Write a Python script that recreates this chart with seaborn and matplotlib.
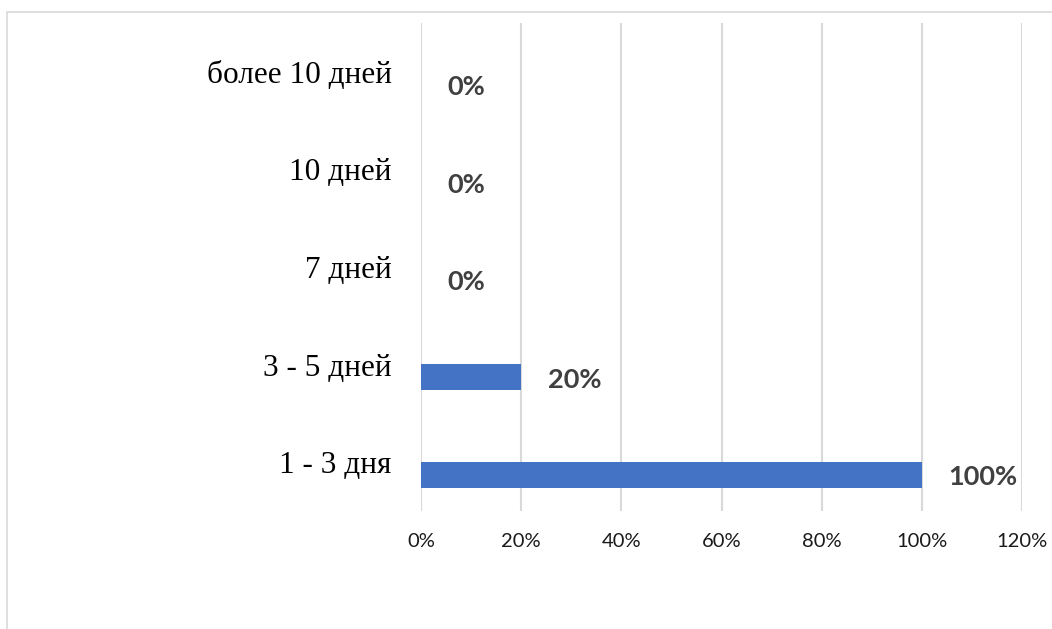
import pandas as pd
import matplotlib
matplotlib.use("Agg")
import matplotlib.pyplot as plt
import seaborn as sns
from matplotlib.patches import Rectangle
from matplotlib.transforms import ScaledTranslation

# data
categories = ["более 10 дней", "10 дней", "7 дней", "3 - 5 дней", "1 - 3 дня"]
shares = [0, 0, 0, 20, 100]
x_ticks = [0, 20, 40, 60, 80, 100, 120]
x_tick_labels = ["0%", "20%", "40%", "60%", "80%", "100%", "120%"]

df = pd.DataFrame({"category": categories, "share": shares})

sns.set_style("white")

fig = plt.figure(figsize=(10.52, 6.29), dpi=100)
ax = fig.add_axes([0.4002, 0.1876, 0.5713, 0.7758])

sns.barplot(data=df, x="share", y="category", order=categories,
            color="#4472C4", saturation=1, width=0.27, linewidth=0, ax=ax)

# in the original the bars sit a bit below their category labels
shift = ScaledTranslation(0, -9 / 72, fig.dpi_scale_trans)
for p in ax.patches:
    p.set_transform(ax.transData + shift)

ax.set_xlim(0, 120)
ax.set_ylim(4.5, -0.5)
ax.set_xticks(x_ticks)
ax.set_xticklabels(x_tick_labels, family="Lato", fontsize=14.5, color="#1a1a1a")
ax.tick_params(axis="x", length=0, pad=16)
ax.tick_params(axis="y", length=0, pad=21)
for lbl in ax.get_yticklabels():
    lbl.set_family("Liberation Serif")
    lbl.set_fontsize(22.5)
    lbl.set_color("black")

ax.xaxis.grid(True, color="#d9d9d9", linewidth=1.5)
ax.set_axisbelow(True)
for s in ax.spines.values():
    s.set_visible(False)
ax.set_xlabel("")
ax.set_ylabel("")

# data labels
for i, v in enumerate(shares):
    ax.annotate(f"{v}%", xy=(v, i), xytext=(19, -11), textcoords="offset points",
                ha="left", va="center", family="Lato", fontweight="bold",
                fontsize=19.5, color="#404040")

# outer chart frame
fig.patches.append(Rectangle((7 / 1052, -0.1), 1.2, 1 - 12 / 629 + 0.1,
                             transform=fig.transFigure, fill=False,
                             edgecolor="#d9d9d9", linewidth=1.2))

fig.savefig("out.png", dpi=100)
